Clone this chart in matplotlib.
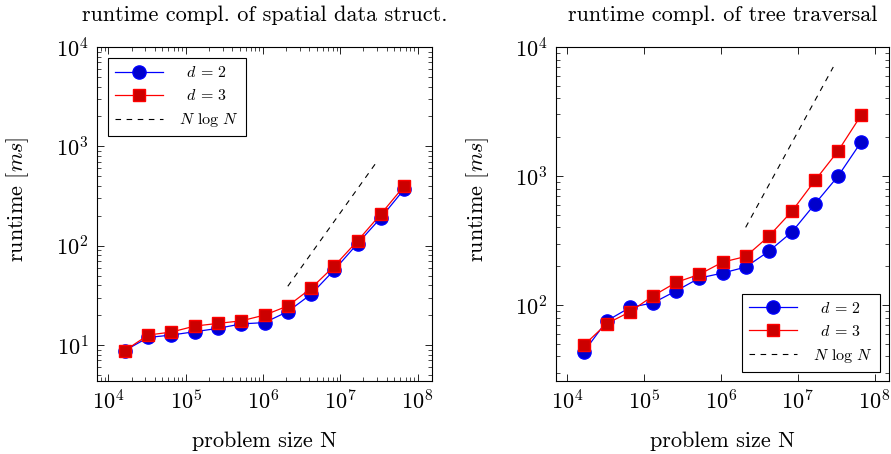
import numpy as np
import matplotlib
matplotlib.use("Agg")
import matplotlib.pyplot as plt

plt.rcParams['font.family'] = ['cmr10', 'DejaVu Serif']
plt.rcParams['mathtext.fontset'] = 'cm'
plt.rcParams['axes.formatter.use_mathtext'] = True

# problem sizes 2^14 .. 2^26
N = [16384, 32768, 65536, 131072, 262144, 524288, 1048576,
     2097152, 4194304, 8388608, 16777216, 33554432, 67108864]

# runtime [ms], spatial data structure
build_d2 = [8.8, 11.9, 12.6, 13.6, 14.7, 16.3, 16.8, 21.7, 32.4, 57, 105, 191, 369]
build_d3 = [8.8, 12.6, 13.5, 15.5, 16.5, 17.5, 20.0, 24.7, 37.2, 62.4, 112, 208, 398]

# runtime [ms], tree traversal
trav_d2 = [43.3, 75.5, 95.9, 104, 129, 162, 177, 197, 261, 368, 609, 1000, 1841]
trav_d3 = [48.8, 71.9, 88.7, 118, 150, 173, 215, 238, 341, 533, 925, 1567, 2972]

# N log N guide lines (end points)
ref_N = [2097152, 29000000]
ref_build = [39, 680]
ref_trav = [400, 7000]

titles = ["runtime compl. of spatial data struct.", "runtime compl. of tree traversal"]

fig = plt.figure(figsize=(8.91, 4.54), dpi=100)
ax1 = fig.add_axes([97/891, 1-381/454, 335/891, 334/454])
ax2 = fig.add_axes([556/891, 1-381/454, 333/891, 334/454])

panels = [(ax1, build_d2, build_d3, ref_build, (4.34, 1e4), 'upper left'),
          (ax2, trav_d2, trav_d3, ref_trav, (25.8, 1e4), 'lower right')]

for i, (ax, y2, y3, yref, ylim, loc) in enumerate(panels):
    ax.loglog(N, y2, color='blue', lw=0.9, marker='o', ms=9.5,
              mfc=(0, 0, 0.8), mec='blue', label=r'$\;\;d\, =\, 2$')
    ax.loglog(N, y3, color='red', lw=0.9, marker='s', ms=9,
              mfc=(0.8, 0, 0), mec='red', label=r'$\;\;d\, =\, 3$')
    ax.loglog(ref_N, yref, color='black', lw=0.8, ls=(0, (5, 5)),
              label=r'$N$ log $N$')
    ax.set_xlim(7130, 1.54e8)
    ax.set_ylim(*ylim)
    ax.set_title(titles[i], fontsize=16, pad=19)
    ax.set_xlabel('problem size N', fontsize=16, va='top')
    ax.xaxis.set_label_coords(0.5, -0.15)
    ax.set_ylabel(r'runtime [$ms$]', fontsize=16, va='center')
    ax.yaxis.set_label_coords(-0.236, 0.545)
    ax.tick_params(which='both', direction='in', top=True, right=True, labelsize=16)
    ax.tick_params(which='major', length=5, width=0.6, pad=6)
    ax.tick_params(which='minor', length=3, width=0.5)
    ax.xaxis.set_major_locator(matplotlib.ticker.LogLocator(base=10, numticks=10))
    for sp in ax.spines.values():
        sp.set_linewidth(0.8)
    if loc == 'upper left':
        anchor = (11/335, 1 - 11/334)
    else:
        anchor = (1 - 9/333, 9/334)
    leg = ax.legend(loc=loc, bbox_to_anchor=anchor, borderaxespad=0,
                    fontsize=11.5, fancybox=False, framealpha=1,
                    edgecolor='black', handlelength=3.0, numpoints=1,
                    borderpad=0.45, labelspacing=0.5, handletextpad=1.0)
    leg.get_frame().set_linewidth(0.8)

fig.savefig('out.png', dpi=100)
